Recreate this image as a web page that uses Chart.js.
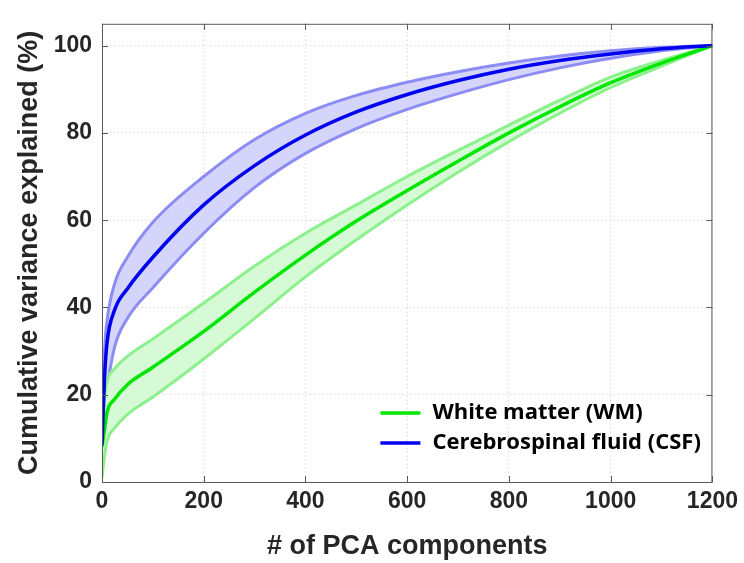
<!DOCTYPE html>
<html>
<head>
<meta charset="utf-8">
<script src="https://cdn.jsdelivr.net/npm/chart.js@4.4.1/dist/chart.umd.min.js"></script>
<style>
  html, body { margin: 0; padding: 0; background: #fff; }
  #wrap { width: 744px; height: 563px; position: relative; }
</style>
</head>
<body>
<div id="wrap"><canvas id="pcaChart" width="744" height="563"></canvas></div>
<script>
// number of PCA components (x positions of the read-off points)
const components = [0, 5, 10, 25, 50, 100, 200, 300, 400, 500, 600, 700, 800, 900, 1000, 1100, 1200];

// Cerebrospinal fluid (CSF), cumulative variance explained (%)
const csfMean  = [8.5, 24, 32, 39.5, 44.3, 51.5, 63.5, 72.5, 79.5, 84.8, 88.8, 92, 94.6, 96.6, 98.1, 99.3, 100];
const csfUpper = [10, 30, 37, 45.5, 51.5, 59.5, 70, 78.5, 84.5, 88.6, 91.6, 94, 96, 97.6, 98.8, 99.6, 100];
const csfLower = [5.5, 15, 21, 31, 37.5, 44.5, 57, 67.5, 75.3, 81, 85.4, 89, 92.2, 94.9, 97.1, 98.8, 100];

// White matter (WM)
const wmMean  = [8, 12, 16, 19, 22.3, 26.3, 34.5, 43.5, 52, 59.8, 66.8, 73.5, 80, 86, 91.5, 96, 100];
const wmUpper = [12, 19, 23, 26, 28.8, 32.8, 41, 49.5, 57, 63.5, 70, 76, 81.8, 87.5, 92.8, 96.6, 100];
const wmLower = [1, 6, 9.4, 12.4, 15.5, 19.5, 28.2, 37.5, 47, 55.5, 63.5, 71, 78, 84.5, 90.4, 95.3, 100];

const xTicks = [0, 200, 400, 600, 800, 1000, 1200];
const yTicks = [0, 20, 40, 60, 80, 100];

const legendLabels = ["White matter (WM)", "Cerebrospinal fluid (CSF)"];

function pts(values) {
    return components.map((c, i) => ({ x: c, y: values[i] }));
}

function line(label, values, color, width, fill, bg, order) {
    return {
        label: label,
        data: pts(values),
        borderColor: color,
        borderWidth: width,
        backgroundColor: bg || "transparent",
        fill: fill,
        order: order,
        pointRadius: 0,
        cubicInterpolationMode: "monotone"
    };
}

// MATLAB style box, inward ticks and legend inside the axes
const boxPlugin = {
    id: "boxPlugin",
    afterDatasetsDraw(chart) {
        const ctx = chart.ctx;
        const a = chart.chartArea;
        const xs = chart.scales.x, ys = chart.scales.y;
        ctx.save();
        ctx.strokeStyle = "#5a5a5a";
        ctx.lineWidth = 1;
        ctx.strokeRect(a.left + 0.5, a.top + 0.5, a.right - a.left - 1, a.bottom - a.top);
        ctx.beginPath();
        xTicks.forEach(v => {
            const px = Math.round(xs.getPixelForValue(v)) + 0.5;
            ctx.moveTo(px, a.bottom); ctx.lineTo(px, a.bottom - 6);
            ctx.moveTo(px, a.top); ctx.lineTo(px, a.top + 6);
        });
        yTicks.forEach(v => {
            const py = Math.round(ys.getPixelForValue(v)) + 0.5;
            ctx.moveTo(a.left, py); ctx.lineTo(a.left + 6, py);
            ctx.moveTo(a.right, py); ctx.lineTo(a.right - 6, py);
        });
        ctx.stroke();

        // legend
        const colors = ["#00e600", "#0000f0"];
        const lx = a.right - 332, ly = a.bottom - 69;
        ctx.font = "bold 22px 'Open Sans'";
        ctx.textBaseline = "middle";
        ctx.fillStyle = "#000";
        legendLabels.forEach((t, i) => {
            const y = ly + i * 30;
            ctx.strokeStyle = colors[i];
            ctx.lineWidth = 3.5;
            ctx.beginPath();
            ctx.moveTo(lx, y); ctx.lineTo(lx + 40, y);
            ctx.stroke();
            ctx.fillText(t, lx + 52, y);
        });
        ctx.restore();
    }
};

const tickFont = { family: "'Liberation Sans', Arial", size: 23, weight: "bold" };
const titleFont = { family: "'Liberation Sans', Arial", size: 27, weight: "bold" };
const gridStyle = { color: "#d0d0d0", drawTicks: false };

new Chart(document.getElementById("pcaChart"), {
    type: "line",
    data: {
        datasets: [
            line("CSF lower", csfLower, "rgba(140,140,245,1)", 3, false, null, 3),
            line("CSF upper", csfUpper, "rgba(140,140,245,1)", 3, "-1", "rgba(213,213,252,1)", 3),
            line("WM lower", wmLower, "rgba(140,240,140,1)", 3, false, null, 2),
            line("WM upper", wmUpper, "rgba(140,240,140,1)", 3, "-1", "rgba(214,250,214,1)", 2),
            line(legendLabels[0], wmMean, "#00e600", 3.5, false, null, 1),
            line(legendLabels[1], csfMean, "#0000f0", 3.5, false, null, 0)
        ]
    },
    options: {
        responsive: false,
        animation: false,
        layout: { padding: { left: 0, right: 30, top: 15, bottom: 0 } },
        plugins: {
            legend: { display: false },
            tooltip: { enabled: false }
        },
        scales: {
            x: {
                type: "linear",
                min: 0,
                max: 1200,
                afterBuildTicks: s => { s.ticks = xTicks.map(v => ({ value: v })); },
                afterFit: s => { s.height = 81; },
                grid: gridStyle,
                border: { display: false, dash: [1, 3] },
                ticks: { font: tickFont, color: "#262626", padding: 6, maxRotation: 0, callback: v => String(v) },
                title: { display: true, text: "# of PCA components", font: titleFont, color: "#262626", padding: { top: 0, bottom: 0 } }
            },
            y: {
                min: 0,
                max: 105,
                afterBuildTicks: s => { s.ticks = yTicks.map(v => ({ value: v })); },
                afterFit: s => { s.width = 102; },
                grid: gridStyle,
                border: { display: false, dash: [1, 3] },
                ticks: { font: tickFont, color: "#262626", padding: 10, callback: v => String(v) },
                title: { display: true, text: "Cumulative variance explained (%)", font: titleFont, color: "#262626", padding: { top: 13, bottom: 0 } }
            }
        }
    },
    plugins: [boxPlugin]
});
</script>
</body>
</html>
